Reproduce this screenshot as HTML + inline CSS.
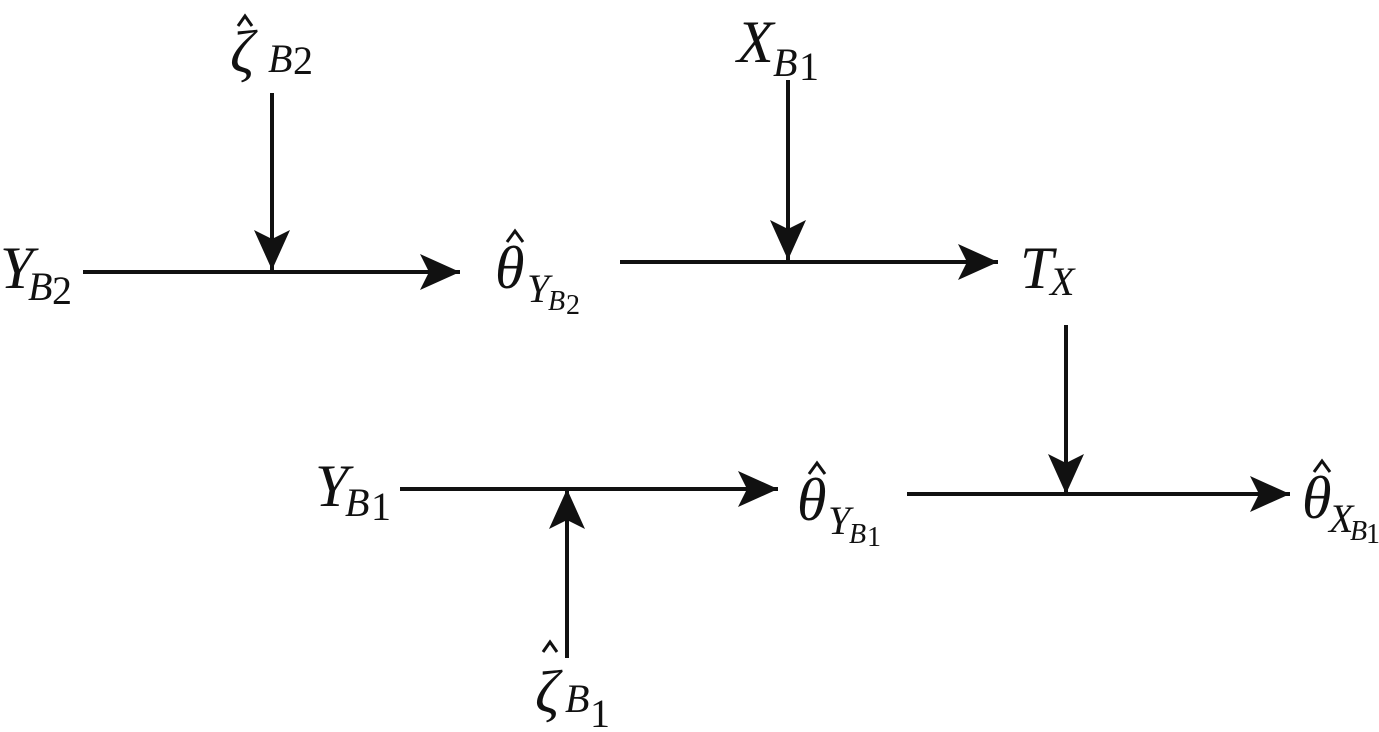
<!DOCTYPE html>
<html><head><meta charset="utf-8"><style>
html,body{margin:0;padding:0;background:#fff;}
svg{display:block}
text{font-family:"Liberation Serif","DejaVu Serif",serif;font-style:italic;fill:#111;}
.m{font-size:60px}.s{font-size:40px}.ss{font-size:28px}.n{font-style:normal}
</style></head><body>
<svg width="1379" height="732" viewBox="0 0 1379 732" xmlns="http://www.w3.org/2000/svg">
<defs>
<marker id="a" markerUnits="userSpaceOnUse" markerWidth="44" markerHeight="40" refX="40" refY="18" orient="auto">
<path d="M0,0 L40,18 L0,36 L9,18 Z" fill="#111"/>
</marker>
</defs>
<g stroke="#111" stroke-width="4" fill="none">
<line x1="83" y1="272" x2="460" y2="272" marker-end="url(#a)"/>
<line x1="272" y1="93" x2="272" y2="270" marker-end="url(#a)"/>
<line x1="620" y1="262" x2="998" y2="262" marker-end="url(#a)"/>
<line x1="788" y1="80" x2="788" y2="260" marker-end="url(#a)"/>
<line x1="1066" y1="325" x2="1066" y2="494" marker-end="url(#a)"/>
<line x1="907" y1="494" x2="1290" y2="494" marker-end="url(#a)"/>
<line x1="400" y1="489" x2="778" y2="489" marker-end="url(#a)"/>
<line x1="567" y1="658" x2="567" y2="489" marker-end="url(#a)"/>
</g>
<!-- hats -->
<g stroke="#111" stroke-width="3" fill="none">
<path d="M238,26 L245,16 L252,26"/>
<path d="M507,242 L515,231 L523,242"/>
<path d="M809,474 L817,463 L825,474"/>
<path d="M1314,472 L1322,461 L1330,472"/>
<path d="M543,652 L550,642 L557,652"/>
</g>
<!-- zeta B2 -->
<text x="230" y="72" class="m">ζ</text>
<text x="268" y="72" class="s">B</text><text x="293" y="74" class="s n">2</text>
<!-- Y B2 -->
<text x="0" y="288" class="m">Y</text><text x="28" y="300" class="s">B</text><text x="52" y="304" class="s n">2</text>
<!-- theta Y B2 -->
<text x="495" y="288" class="m">θ</text>
<text x="527" y="302" class="s">Y</text><text x="548" y="310" class="ss">B</text><text x="566" y="314" class="ss n">2</text>
<!-- X B1 -->
<text x="737" y="62" class="m">X</text><text x="773" y="76" class="s">B</text><text x="799" y="80" class="s n">1</text>
<!-- T X -->
<text x="1020" y="288" class="m">T</text><text x="1050" y="295" class="s">X</text>
<!-- Y B1 -->
<text x="315" y="506" class="m">Y</text><text x="345" y="516" class="s">B</text><text x="371" y="520" class="s n">1</text>
<!-- theta Y B1 -->
<text x="797" y="520" class="m">θ</text>
<text x="828" y="534" class="s">Y</text><text x="849" y="543" class="ss">B</text><text x="867" y="546" class="ss n">1</text>
<!-- theta X B1 -->
<text x="1302" y="518" class="m">θ</text>
<text x="1329" y="532" class="s">X</text><text x="1350" y="540" class="ss">B</text><text x="1366" y="543" class="ss n">1</text>
<!-- zeta B1 -->
<text x="535" y="712" class="m">ζ</text>
<text x="565" y="712" class="s">B</text><text x="590" y="727" class="s n">1</text>
</svg>
</body></html>
